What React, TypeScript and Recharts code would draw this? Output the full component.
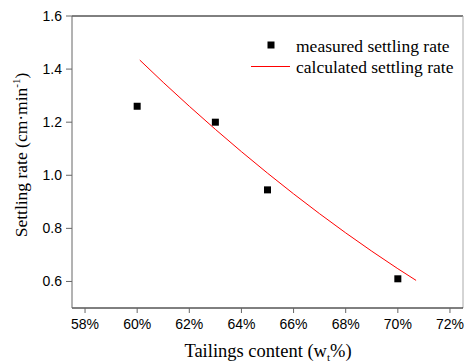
import React from "react";
import {
  ScatterChart,
  Scatter,
  XAxis,
  YAxis,
  ReferenceLine,
} from "recharts";

const measuredX = [60, 63, 65, 70];
const measuredY = [1.26, 1.2, 0.945, 0.61];

const calcX = [60.1, 61, 62, 63, 64, 65, 66, 67, 68, 69, 70, 70.7];
const calcY = [1.434, 1.35, 1.26, 1.173, 1.089, 1.008, 0.93, 0.855, 0.783, 0.714, 0.648, 0.604];

const xTicks = [58, 60, 62, 64, 66, 68, 70, 72];
const yTicks = [0.6, 0.8, 1.0, 1.2, 1.4, 1.6];

const measured = measuredX.map((x, i) => ({ x, y: measuredY[i] }));
const calculated = calcX.map((x, i) => ({ x, y: calcY[i] }));

const SERIF = "'Liberation Serif', 'Times New Roman', serif";
const SANS = "'Liberation Sans', Arial, sans-serif";

const Square = (props: any) => {
  const { cx, cy } = props;
  if (cx == null || cy == null) return null;
  return <rect x={cx - 3.5} y={cy - 3.5} width={7} height={7} fill="#000" />;
};

const NoShape = () => null;

export default function App() {
  return (
    <div style={{ position: "absolute", left: 0, top: 0, width: 465, height: 363, background: "#fff" }}>
      <ScatterChart
        width={465}
        height={363}
        margin={{ top: 16, right: 2, bottom: 0, left: 0 }}
      >
        <XAxis
          type="number"
          dataKey="x"
          domain={[57.5, 72.5]}
          ticks={xTicks}
          tickFormatter={(v: number) => `${v}%`}
          height={55}
          tickSize={5}
          tickMargin={6}
          stroke="#000"
          tick={{ fill: "#000", fontSize: 14, fontFamily: SANS }}
          tickLine={{ stroke: "#666" }}
          allowDataOverflow
          label={{
            content: () => (
              <text x={268} y={357} textAnchor="middle" fontFamily={SERIF} fontSize={18.5} fill="#000">
                Tailings content (w
                <tspan fontSize={11} dy={4}>t</tspan>
                <tspan dy={-4}>%)</tspan>
              </text>
            ),
          }}
        />
        <YAxis
          type="number"
          dataKey="y"
          domain={[0.5, 1.6]}
          ticks={yTicks}
          tickFormatter={(v: number) => v.toFixed(1)}
          width={72}
          tickSize={6}
          tickMargin={4}
          stroke="#666"
          tick={{ fill: "#000", fontSize: 14, fontFamily: SANS }}
          allowDataOverflow
          label={{
            content: () => (
              <text
                transform="translate(27,155) rotate(-90)"
                textAnchor="middle"
                fontFamily={SERIF}
                fontSize={17.5}
                fill="#000"
              >
                Settling rate (cm·min
                <tspan fontSize={11} dy={-7}>-1</tspan>
                <tspan dy={7}>)</tspan>
              </text>
            ),
          }}
        />
        <ReferenceLine y={1.6} stroke="#000" strokeWidth={1} ifOverflow="extendDomain" />
        <ReferenceLine x={72.5} stroke="#aaa" strokeWidth={1} ifOverflow="extendDomain" />
        <Scatter
          name="calculated settling rate"
          data={calculated}
          line={{ stroke: "#ff0000", strokeWidth: 1 }}
          lineType="joint"
          shape={NoShape}
          isAnimationActive={false}
        />
        <Scatter
          name="measured settling rate"
          data={measured}
          shape={Square}
          fill="#000"
          isAnimationActive={false}
        />
      </ScatterChart>
      <svg
        width={465}
        height={363}
        style={{ position: "absolute", left: 0, top: 0, pointerEvents: "none" }}
      >
        <rect x={267.5} y={41.5} width={7} height={7} fill="#000" />
        <text x={296} y={52} fontFamily={SERIF} fontSize={17.5} fill="#000">
          measured settling rate
        </text>
        <line x1={251} x2={290} y1={66.5} y2={66.5} stroke="#ff0000" strokeWidth={1} />
        <text x={296} y={73} fontFamily={SERIF} fontSize={17.5} fill="#000">
          calculated settling rate
        </text>
      </svg>
    </div>
  );
}
